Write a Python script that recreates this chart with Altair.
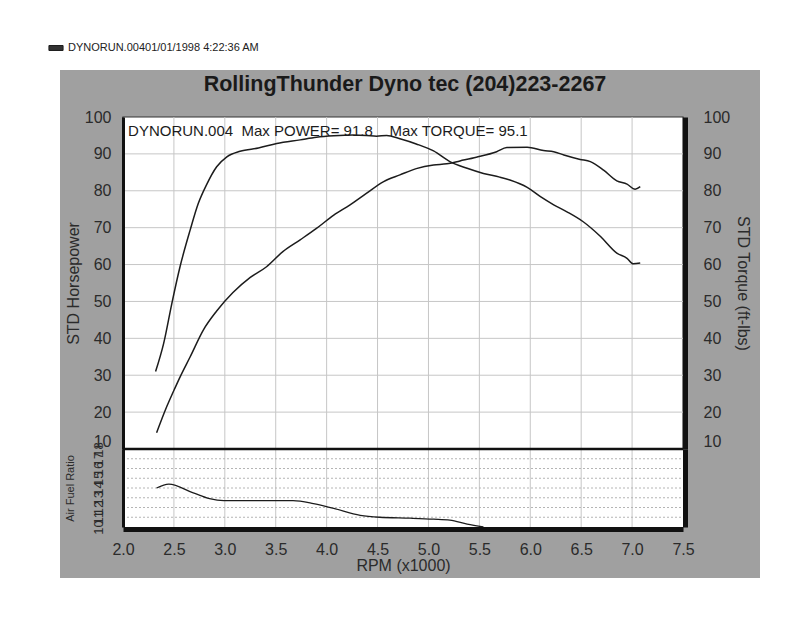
import altair as alt
import pandas as pd

# ---------------- data ----------------
rpm_power = [2.33, 2.43, 2.51, 2.56, 2.66, 2.79, 2.92, 3.08, 3.25, 3.41, 3.57, 3.74,
             3.90, 4.07, 4.23, 4.39, 4.56, 4.72, 4.88, 5.05, 5.18, 5.31, 5.47, 5.67,
             5.77, 5.97, 6.13, 6.23, 6.33, 6.49, 6.59, 6.72, 6.85, 6.95, 7.03, 7.08]
power_hp = [14.4, 21.5, 26.5, 29.5, 35.0, 42.3, 47.4, 52.4, 56.5, 59.4, 63.5, 66.7,
            69.8, 73.4, 76.2, 79.3, 82.5, 84.3, 86.0, 87.0, 87.3, 88.1, 89.1, 90.6,
            91.7, 91.8, 90.9, 90.6, 89.7, 88.5, 87.9, 85.6, 82.7, 81.8, 80.4, 81.1]

rpm_torque = [2.32, 2.40, 2.48, 2.56, 2.66, 2.74, 2.82, 2.92, 3.02, 3.15, 3.33, 3.51,
              3.74, 3.90, 4.07, 4.26, 4.39, 4.49, 4.59, 4.72, 4.88, 5.05, 5.21, 5.38,
              5.54, 5.70, 5.80, 5.97, 6.10, 6.23, 6.36, 6.52, 6.69, 6.85, 6.95, 7.01,
              7.08]
torque_ftlb = [31.0, 38.7, 49.5, 59.4, 69.4, 76.6, 81.6, 86.5, 89.2, 90.7, 91.6, 92.8,
               93.8, 94.5, 94.9, 95.1, 95.0, 94.8, 95.0, 94.1, 92.7, 90.8, 87.9, 86.1,
               84.7, 83.7, 82.9, 80.9, 78.4, 76.2, 74.3, 71.6, 67.6, 63.1, 61.7, 60.2,
               60.4]

rpm_afr = [2.33, 2.45, 2.69, 2.85, 2.99, 3.35, 3.67, 3.87, 4.07, 4.33, 4.52, 4.82,
           5.05, 5.21, 5.38, 5.54]
afr_ratio = [14.0, 14.4, 13.5, 12.9, 12.7, 12.7, 12.7, 12.4, 11.9, 11.2, 11.0, 10.9,
             10.8, 10.7, 10.3, 10.0]

x_ticks = [2.0, 2.5, 3.0, 3.5, 4.0, 4.5, 5.0, 5.5, 6.0, 6.5, 7.0, 7.5]
x_grid = [2.5, 3.0, 3.5, 4.0, 4.5, 5.0, 5.5, 6.0, 6.5, 7.0]
y_ticks = [10, 20, 30, 40, 50, 60, 70, 80, 90, 100]
y_grid = [20, 30, 40, 50, 60, 70, 80, 90]
afr_ticks = [10, 11, 12, 13, 14, 15, 16, 17, 18]
afr_grid = [11, 12, 13, 14, 15, 16, 17]

run_name = "DYNORUN.00401/01/1998 4:22:36 AM"
chart_title = "RollingThunder Dyno tec (204)223-2267"
note_text = "DYNORUN.004\u00a0\u00a0Max POWER= 91.8\u00a0\u00a0\u00a0\u00a0Max TORQUE= 95.1"

# ---------------- styling ----------------
FONT = "Liberation Sans"
INK = "#1c1c1c"
LBL = "#2b2b2b"
GRID = "#c6c6c6"

x_scale = alt.Scale(domain=[2.0, 7.5], range=[63, 623], nice=False)
up_scale = alt.Scale(domain=[10, 100], range=[379, 47], nice=False)
afr_scale = alt.Scale(domain=[10, 18], range=[457, 379], nice=False)

x_axis = alt.Axis(orient="bottom", offset=-49, values=x_ticks, format=".1f",
                  labelFontSize=16, labelColor=LBL, labelFont=FONT, labelPadding=12,
                  labelFlush=False, ticks=False, domainColor="#111", domainWidth=5,
                  grid=False, title="RPM (x1000)", titleFont=FONT, titleFontSize=16,
                  titleFontWeight="normal", titleColor=LBL, titlePadding=0, zindex=1)


def X(field=None, datum=None):
    if field is not None:
        return alt.X(field, type="quantitative", scale=x_scale, axis=x_axis)
    return alt.X(datum=datum, type="quantitative", scale=x_scale, axis=x_axis)


one = pd.DataFrame({"k": [0]})

upper_bg = alt.Chart(one).mark_rect(fill="white", stroke="#333", strokeWidth=1.2).encode(
    x=X(datum=2.0), x2=alt.X2(datum=7.5),
    y=alt.Y(datum=100, type="quantitative", scale=up_scale, axis=None),
    y2=alt.Y2(datum=10))

lower_bg = alt.Chart(one).mark_rect(fill="white").encode(
    x=X(datum=2.0), x2=alt.X2(datum=7.5),
    y=alt.Y(datum=18, type="quantitative", scale=afr_scale,
            axis=alt.Axis(orient="right", offset=-75, labels=False, ticks=False,
                          domainWidth=5, domainColor="#111", grid=False, title=None,
                          zindex=1)),
    y2=alt.Y2(datum=10))

vgrid_up = alt.Chart(pd.DataFrame({"g": x_grid})).mark_rule(color=GRID, strokeWidth=1).encode(
    x=X("g"),
    y=alt.Y(datum=10, type="quantitative", scale=up_scale, axis=None),
    y2=alt.Y2(datum=100))

hgrid_up = alt.Chart(pd.DataFrame({"g": y_grid})).mark_rule(color=GRID, strokeWidth=1).encode(
    x=X(datum=2.0), x2=alt.X2(datum=7.5),
    y=alt.Y("g", type="quantitative", scale=up_scale, axis=None))

vgrid_lo = alt.Chart(pd.DataFrame({"g": x_grid})).mark_rule(color=GRID, strokeWidth=1).encode(
    x=X("g"),
    y=alt.Y(datum=10, type="quantitative", scale=afr_scale, axis=None),
    y2=alt.Y2(datum=18))

hgrid_lo = alt.Chart(pd.DataFrame({"g": afr_grid})).mark_rule(
    color="#b5b5b5", strokeWidth=1, strokeDash=[2, 2]).encode(
    x=X(datum=2.0), x2=alt.X2(datum=7.5),
    y=alt.Y("g", type="quantitative", scale=afr_scale, axis=None))

separator = alt.Chart(one).mark_rule(color="#111", strokeWidth=2.5).encode(
    x=X(datum=2.0), x2=alt.X2(datum=7.5),
    y=alt.Y(datum=10, type="quantitative", scale=up_scale, axis=None))

power_df = pd.DataFrame({"rpm": rpm_power, "hp": power_hp, "run": run_name})
torque_df = pd.DataFrame({"rpm": rpm_torque, "tq": torque_ftlb})
afr_df = pd.DataFrame({"rpm": rpm_afr, "afr": afr_ratio})

power_line = alt.Chart(power_df).mark_line(strokeWidth=1.5, interpolate="monotone").encode(
    x=X("rpm"),
    y=alt.Y("hp", type="quantitative", scale=up_scale,
            axis=alt.Axis(orient="left", offset=-63, values=y_ticks, labelFontSize=16,
                          labelColor=LBL, labelFont=FONT, labelPadding=12, ticks=False,
                          domainWidth=3, domainColor="#111", grid=False,
                          title="STD Horsepower", titleFont=FONT, titleFontSize=16,
                          titleFontWeight="normal", titleColor=LBL, titlePadding=3,
                          labelBaseline={"condition": {"test": "datum.value == 10",
                                                       "value": "bottom"},
                                         "value": "middle"},
                          zindex=1)),
    color=alt.Color("run", type="nominal", scale=alt.Scale(range=[INK]),
                    legend=alt.Legend(orient="none", legendX=-12, legendY=-30, title=None,
                                      symbolType="M-1,-0.35H1V0.35H-1Z", symbolSize=200,
                                      symbolFillColor="#333", symbolStrokeColor="#333",
                                      symbolStrokeWidth=1, labelFont=FONT, labelLimit=400,
                                      labelFontSize=11, labelColor="#222", padding=0)))

torque_line = alt.Chart(torque_df).mark_line(color=INK, strokeWidth=1.5,
                                             interpolate="monotone").encode(
    x=X("rpm"),
    y=alt.Y("tq", type="quantitative", scale=up_scale,
            axis=alt.Axis(orient="right", offset=-75, values=y_ticks, labelFontSize=16,
                          labelColor=LBL, labelFont=FONT, labelPadding=18, ticks=False,
                          domainWidth=5, domainColor="#111", grid=False,
                          title="STD Torque (ft-lbs)", titleFont=FONT, titleFontSize=16,
                          titleFontWeight="normal", titleColor=LBL, titlePadding=5,
                          labelBaseline={"condition": {"test": "datum.value == 10",
                                                       "value": "bottom"},
                                         "value": "middle"},
                          zindex=1)))

afr_line = alt.Chart(afr_df).mark_line(color=INK, strokeWidth=1.3,
                                       interpolate="monotone").encode(
    x=X("rpm"),
    y=alt.Y("afr", type="quantitative", scale=afr_scale,
            axis=alt.Axis(orient="left", offset=-63, values=afr_ticks, labelFontSize=13,
                          labelAngle=270, labelAlign="center", labelBaseline="bottom",
                          labelColor=LBL, labelFont=FONT, labelPadding=18, ticks=False,
                          labelOverlap=False, domainWidth=3, domainColor="#111",
                          grid=False, title="Air Fuel Ratio", titleFont=FONT,
                          titleFontSize=11, titleFontWeight="normal", titleColor=LBL,
                          titlePadding=17, zindex=1)))

note = alt.Chart(one).mark_text(text=note_text, align="left", baseline="alphabetic",
                                font=FONT, fontSize=15, color=INK).encode(
    x=X(datum=2.05),
    y=alt.Y(datum=94.9, type="quantitative", scale=up_scale, axis=None))

chart = alt.layer(
    upper_bg, lower_bg, vgrid_up, hgrid_up, vgrid_lo, hgrid_lo, separator,
    power_line, torque_line, afr_line, note
).resolve_scale(y="independent").properties(
    width=700, height=508,
    title=alt.TitleParams(text=chart_title, anchor="middle", frame="group", offset=-25,
                          dx=-5, dy=30, fontSize=21.5, font=FONT, fontWeight="bold",
                          color="#1a1a1a"),
    autosize=alt.AutoSizeParams(type="none"),
    padding={"left": 52, "top": 62, "right": 32, "bottom": 31},
    background="white",
).configure_view(fill="#a0a0a0", strokeWidth=0)

chart.save("out.html", embed_options={"renderer": "svg", "actions": False})
